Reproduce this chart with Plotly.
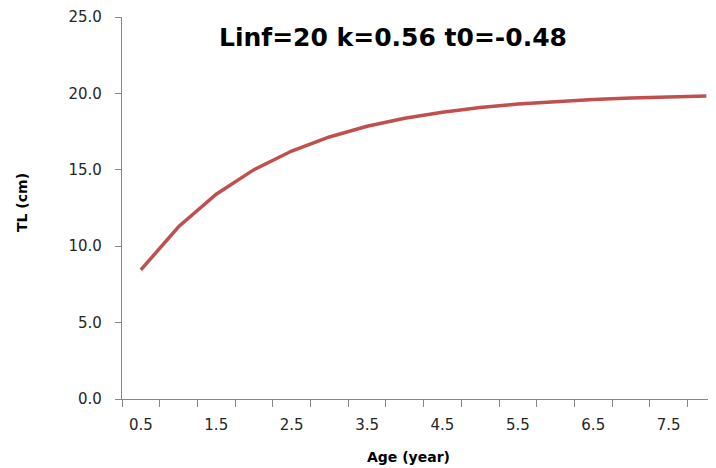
import plotly.graph_objects as go

ages = [0.5, 1.0, 1.5, 2.0, 2.5, 3.0, 3.5, 4.0, 4.5, 5.0, 5.5, 6.0, 6.5, 7.0, 7.5, 8.0]
tl_cm = [8.45, 11.27, 13.40, 15.01, 16.23, 17.15, 17.85, 18.37, 18.77, 19.07, 19.30, 19.47, 19.60, 19.70, 19.77, 19.83]
x_tick_labels = ["0.5", "1.5", "2.5", "3.5", "4.5", "5.5", "6.5", "7.5"]
x_tick_vals = [0.5, 1.5, 2.5, 3.5, 4.5, 5.5, 6.5, 7.5]
x_boundaries = [0.25 + 0.5 * i for i in range(17)]
y_ticks = [0, 5, 10, 15, 20, 25]

title_text = "Linf=20 k=0.56 t0=-0.48"
x_title = "Age (year)"
y_title = "TL (cm)"

FONT = "DejaVu Sans"
AXIS_COLOR = "#868686"
TEXT_COLOR = "#262626"

fig = go.Figure()
fig.add_trace(go.Scatter(
    x=ages, y=tl_cm, mode="lines",
    line=dict(color="#C0504D", width=3.5),
    hoverinfo="skip", showlegend=False,
))

# page body has an 8px margin; size the figure so it fills the 716x468 window
OFF = 8
W, H = 716 - OFF, 468 - OFF
L, R, T, B = 122 - OFF, 0, 17 - OFF, 69
pw, ph = W - L - R, H - T - B

def px(x):
    return (x - OFF - L) / pw

def py(y):
    return (H - B - (y - OFF)) / ph

fig.update_layout(
    width=W, height=H,
    margin=dict(l=L, r=R, t=T, b=B, pad=0),
    paper_bgcolor="white", plot_bgcolor="white",
    font=dict(family=FONT, color=TEXT_COLOR, size=15),
    xaxis=dict(
        range=[0.25, 0.25 + pw / 75.4],
        tickvals=x_tick_vals, ticktext=x_tick_labels,
        ticks="", showgrid=False, zeroline=False,
        showline=True, linecolor=AXIS_COLOR, linewidth=1.2,
        ticklabelstandoff=12,
        tickfont=dict(size=15, color=TEXT_COLOR),
        minor=dict(tickvals=x_boundaries, ticks="outside", ticklen=7,
                   tickcolor=AXIS_COLOR, tickwidth=1.2, showgrid=False),
    ),
    yaxis=dict(
        range=[0, 25], tickvals=y_ticks, tickformat=".1f",
        ticks="outside", ticklen=6, tickcolor=AXIS_COLOR, tickwidth=1.2,
        showgrid=False, zeroline=False,
        showline=True, linecolor=AXIS_COLOR, linewidth=1.2,
        ticklabelstandoff=10,
        tickfont=dict(size=15, color=TEXT_COLOR),
    ),
    annotations=[
        dict(text="<b>" + title_text + "</b>", xref="paper", yref="paper",
             x=px(393), y=py(37), xanchor="center", yanchor="middle",
             showarrow=False, font=dict(size=25, color="#000000", family=FONT)),
        dict(text="<b>" + x_title + "</b>", xref="paper", yref="paper",
             x=px(408), y=py(457), xanchor="center", yanchor="middle",
             showarrow=False, font=dict(size=14, color="#000000", family=FONT)),
        dict(text="<b>" + y_title + "</b>", xref="paper", yref="paper",
             x=px(21.5), y=py(202.5), xanchor="center", yanchor="middle",
             textangle=-90,
             showarrow=False, font=dict(size=14, color="#000000", family=FONT)),
    ],
)

fig.write_html("out.html")
